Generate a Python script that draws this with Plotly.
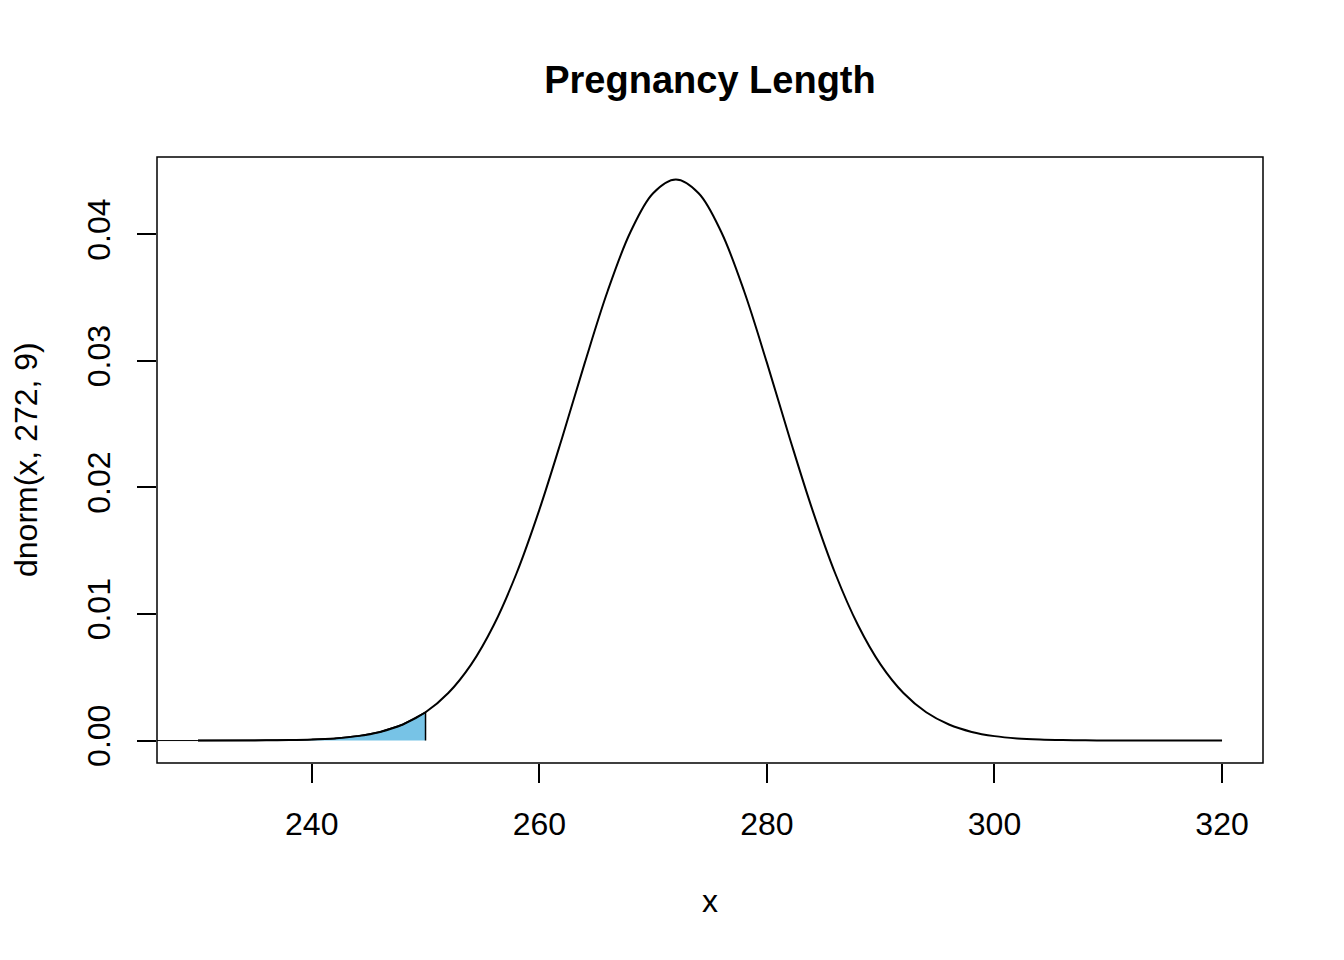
import plotly.graph_objects as go

# density values (x every 2 days)
x_vals = [230, 232, 234, 236, 238, 240, 242, 244, 246, 248, 250, 252, 254, 256,
          258, 260, 262, 264, 266, 268, 270, 272, 274, 276, 278, 280, 282, 284,
          286, 288, 290, 292, 294, 296, 298, 300, 302, 304, 306, 308, 310, 312,
          314, 316, 318, 320]
y_vals = [0.0000008, 0.0000023, 0.0000059, 0.0000149, 0.000035, 0.0000797,
          0.000171, 0.000351, 0.000683, 0.001267, 0.002234, 0.003754, 0.005999,
          0.00913, 0.01322, 0.01823, 0.02391, 0.02986, 0.03550, 0.04016, 0.04325,
          0.04433, 0.04325, 0.04016, 0.03550, 0.02986, 0.02391, 0.01823, 0.01322,
          0.00913, 0.005999, 0.003754, 0.002234, 0.001267, 0.000683, 0.000351,
          0.000171, 0.0000797, 0.000035, 0.0000149, 0.0000059, 0.0000023,
          0.0000008, 0.0000002, 0.0000001, 0.0]
shade_to = 250
x_ticks = [240, 260, 280, 300, 320]
y_ticks = [0.00, 0.01, 0.02, 0.03, 0.04]

x_lo, x_hi = 226.4, 323.6
y_lo, y_hi = -0.001773, 0.04611

FONT = "Liberation Sans, Arial, sans-serif"

sx = [x for x in x_vals if x <= shade_to]
sy = y_vals[:len(sx)]

fig = go.Figure()

# shaded tail
fig.add_trace(go.Scatter(
    x=[sx[0]] + sx + [sx[-1]], y=[0] + sy + [0],
    mode="lines", fill="toself", fillcolor="#77C3E6",
    line=dict(color="black", width=1.5),
    hoverinfo="skip", showlegend=False))

# density curve
fig.add_trace(go.Scatter(
    x=x_vals, y=y_vals, mode="lines",
    line=dict(color="black", width=2, shape="spline", smoothing=1),
    showlegend=False))

# short baseline to the left of the curve
fig.add_shape(type="line", x0=x_lo, x1=x_vals[0], y0=0, y1=0,
              line=dict(color="black", width=1))

# plot box
fig.add_shape(type="rect", xref="paper", yref="paper", x0=0, x1=1, y0=0, y1=1,
              line=dict(color="black", width=1.5))

fig.update_xaxes(range=[x_lo, x_hi], tickvals=x_ticks, ticks="outside",
                 ticklen=19, tickwidth=1.5, tickcolor="black",
                 showgrid=False, zeroline=False, showline=False,
                 tickfont=dict(family=FONT, size=32, color="black"),
                 ticklabelstandoff=14)
fig.update_yaxes(range=[y_lo, y_hi], tickvals=y_ticks, tickformat=".2f",
                 ticks="outside", ticklen=19, tickwidth=1.5, tickcolor="black",
                 tickangle=-90, showgrid=False, zeroline=False, showline=False,
                 tickfont=dict(family=FONT, size=32, color="black"),
                 ticklabelstandoff=14)

fig.add_annotation(text="x", xref="paper", yref="paper", x=0.5, y=-0.0,
                   yshift=-138, showarrow=False, yanchor="middle",
                   font=dict(family=FONT, size=32, color="black"))
fig.add_annotation(text="dnorm(x, 272, 9)", xref="paper", yref="paper",
                   x=0, y=0.5, xshift=-131, textangle=-90, showarrow=False,
                   xanchor="center", yanchor="middle",
                   font=dict(family=FONT, size=32, color="black"))

fig.update_layout(
    width=1344, height=960,
    margin=dict(l=149, r=89, t=149, b=205),
    plot_bgcolor="white", paper_bgcolor="white",
    title=dict(text="<b>Pregnancy Length</b>", x=0.5223, xanchor="center",
               y=1 - 72 / 960, yanchor="middle",
               font=dict(family=FONT, size=38, color="black")),
)

fig.write_html("out.html")
